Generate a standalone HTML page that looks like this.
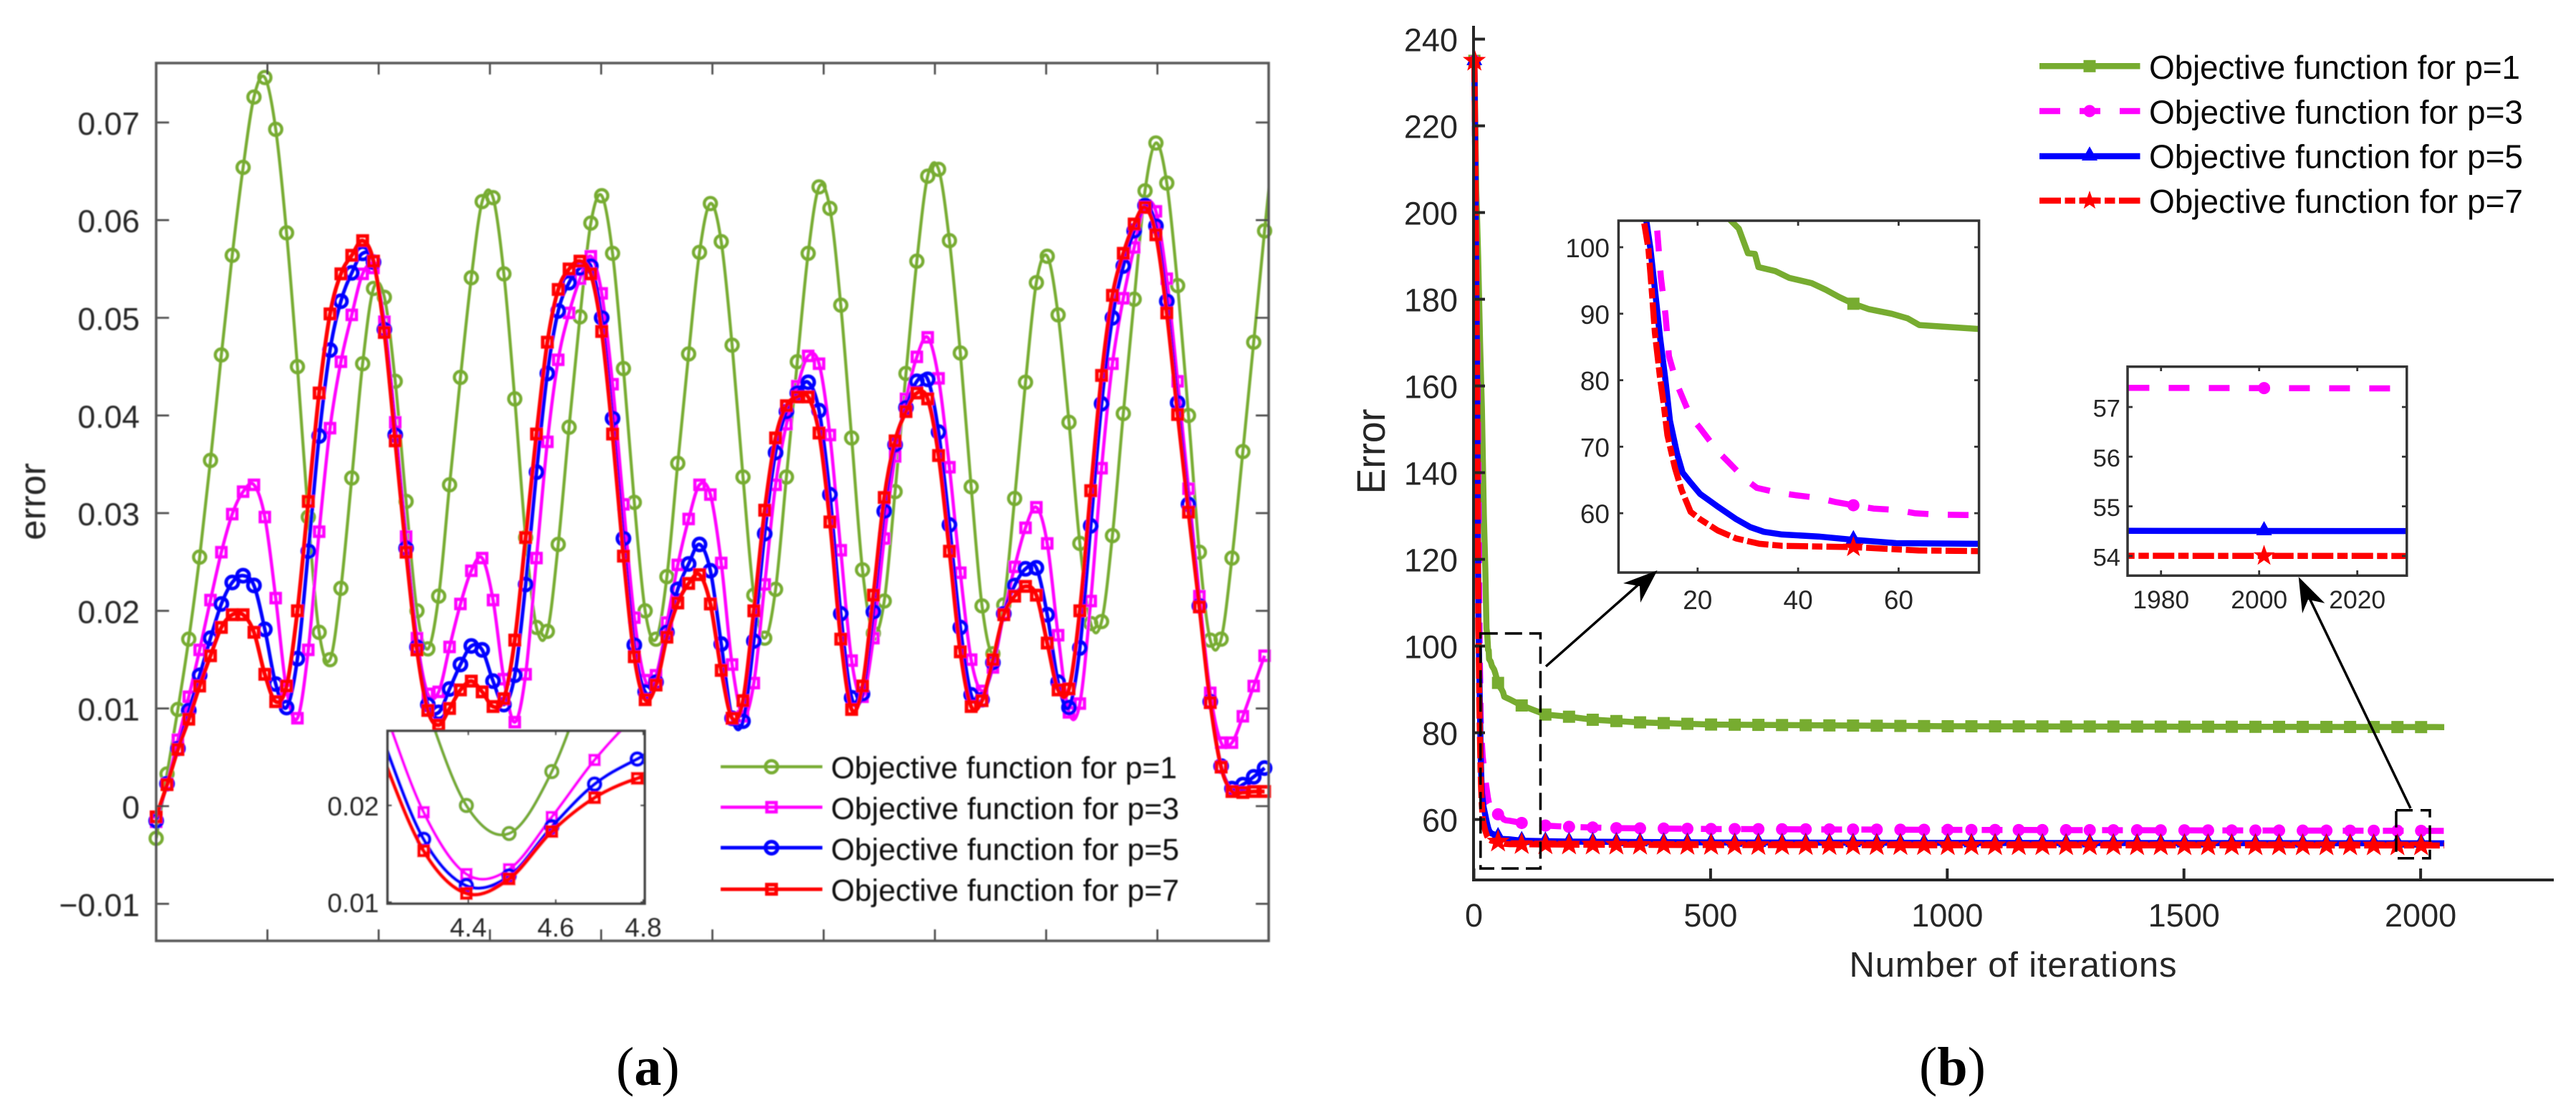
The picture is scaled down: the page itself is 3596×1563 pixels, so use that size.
<!DOCTYPE html>
<html lang="en">
<head>
<meta charset="utf-8">
<title>Objective function error charts</title>
<style>
html,body{margin:0;padding:0;background:#fff;}
svg{display:block;font-family:"Liberation Sans",Arial,sans-serif;}
.lab{fill:#262626;}
.leg{fill:#0a0a0a;}
.cap{font-family:"Liberation Serif",serif;font-size:76px;fill:#000;}
</style>
</head>
<body>
<svg id="chart" xmlns="http://www.w3.org/2000/svg" width="3596" height="1563" viewBox="0 0 3596 1563">
<defs>
<clipPath id="clip-a-main"><rect x="218" y="88" width="1553" height="1225"/></clipPath>
<clipPath id="clip-a-inset"><rect x="541" y="1020" width="359" height="241"/></clipPath>
<clipPath id="clip-b-inset1"><rect x="2259.4" y="308" width="503.2" height="491"/></clipPath>
<clipPath id="clip-b-inset2"><rect x="2970" y="511.7" width="389.8" height="291.6"/></clipPath>
<filter id="soft" x="0" y="0" width="3596" height="1563" filterUnits="userSpaceOnUse"><feGaussianBlur stdDeviation="0.9"/></filter>
</defs>
<rect x="0" y="0" width="3596" height="1563" fill="#fff"/>

<g id="panel-a">
 <g filter="url(#soft)">
  <g id="a-series"></g>
  <g id="a-axes"></g>
  <rect x="218" y="88" width="1553" height="1225" fill="none" stroke="#555" stroke-width="3.5"/>
  <text class="lab" transform="translate(63,700) rotate(-90)" text-anchor="middle" font-size="51">error</text>
  <rect x="541" y="1020" width="359" height="241" fill="#fff"/>
  <g id="a-inset"></g>
  <g id="a-inset-axes"></g>
  <rect x="541" y="1020" width="359" height="241" fill="none" stroke="#404040" stroke-width="3.5"/>
  <g id="a-legend">
    <line x1="1006" x2="1148" y1="1070" y2="1070" stroke="#77AC30" stroke-width="4.2"/>
    <line x1="1006" x2="1148" y1="1126.5" y2="1126.5" stroke="#FF00FF" stroke-width="4.5"/>
    <line x1="1006" x2="1148" y1="1183" y2="1183" stroke="#0000FF" stroke-width="5"/>
    <line x1="1006" x2="1148" y1="1241" y2="1241" stroke="#FF0000" stroke-width="5"/>
    <text class="leg" x="1160" y="1086" font-size="42.5" textLength="483">Objective function for p=1</text>
    <text class="leg" x="1160" y="1143" font-size="42.5" textLength="486">Objective function for p=3</text>
    <text class="leg" x="1160" y="1200" font-size="42.5" textLength="486">Objective function for p=5</text>
    <text class="leg" x="1160" y="1257" font-size="42.5" textLength="486">Objective function for p=7</text>
  </g>
 </g>
 <text class="cap" x="860" y="1514">(<tspan font-weight="bold">a</tspan>)</text>
</g>

<g id="panel-b">
  <g id="b-series"></g>
  <g id="b-axes"></g>
  <line x1="2057" x2="2057" y1="36" y2="1228" stroke="#262626" stroke-width="4"/>
  <line x1="2055" x2="3565" y1="1228" y2="1228" stroke="#262626" stroke-width="4"/>
  <text class="lab" transform="translate(1933,630) rotate(-90)" text-anchor="middle" font-size="56" textLength="119" lengthAdjust="spacingAndGlyphs">Error</text>
  <text class="lab" x="2581.5" y="1363" font-size="49" textLength="457">Number of iterations</text>

  <rect x="2066.8" y="884" width="83.6" height="328" fill="none" stroke="#000" stroke-width="3.5" stroke-dasharray="24 10"/>
  <rect x="3345" y="1130.7" width="47" height="67" fill="none" stroke="#000" stroke-width="3.5" stroke-dasharray="23 11"/>

  <rect x="2259.4" y="308" width="503.2" height="491" fill="#fff"/>
  <g id="b-inset1"></g>
  <g id="b-inset1-axes"></g>
  <rect x="2259.4" y="308" width="503.2" height="491" fill="none" stroke="#333" stroke-width="3.5"/>

  <rect x="2970" y="511.7" width="389.8" height="291.6" fill="#fff"/>
  <g id="b-inset2"></g>
  <g id="b-inset2-axes"></g>
  <rect x="2970" y="511.7" width="389.8" height="291.6" fill="none" stroke="#333" stroke-width="3.5"/>

  <g>
    <line x1="2158" y1="930" x2="2296" y2="808" stroke="#000" stroke-width="3.5"/>
    <polygon points="2313.6,796 2266,814 2289,818 2290,841" fill="#000"/>
  </g>
  <g>
    <line x1="3365" y1="1128" x2="3224" y2="835" stroke="#000" stroke-width="3.5"/>
    <polygon points="3208.7,805 3245.4,841.7 3222,836.7 3214,856" fill="#000"/>
  </g>

  <g id="b-legend">
    <line x1="2847" x2="2987.5" y1="92.3" y2="92.3" stroke="#77AC30" stroke-width="8.5"/>
    <line x1="2847" x2="2987.5" y1="155" y2="155" stroke="#FF00FF" stroke-width="8.5" stroke-dasharray="29 27"/>
    <line x1="2847" x2="2987.5" y1="218" y2="218" stroke="#0000FF" stroke-width="8.5"/>
    <line x1="2847" x2="2987.5" y1="280" y2="280" stroke="#FF0000" stroke-width="8.5" stroke-dasharray="30 5.5 14.5 5.5"/>
    <text class="leg" x="3000" y="110" font-size="46" textLength="518">Objective function for p=1</text>
    <text class="leg" x="3000" y="172.5" font-size="46" textLength="522">Objective function for p=3</text>
    <text class="leg" x="3000" y="234.7" font-size="46" textLength="522">Objective function for p=5</text>
    <text class="leg" x="3000" y="297" font-size="46" textLength="522">Objective function for p=7</text>
  </g>
  <text class="cap" x="2679" y="1514">(<tspan font-weight="bold">b</tspan>)</text>
</g>
</svg>

<script>
// ---------- Panel (a) data ----------
const sampleStep = 0.09768;
const errorP1 = [-.0033,.0033,.0099,.0171,.0255,.0354,.0462,.0564,.0654,.0726,.0746,.0693,.0587,.0450,.0296,.0178,.0150,.0223,.0336,.0453,.0530,.0521,.0435,.0312,.0200,.0161,.0215,.0329,.0439,.0541,.0619,.0623,.0545,.0417,.0275,.0183,.0179,.0268,.0388,.0501,.0597,.0625,.0566,.0448,.0311,.0200,.0171,.0235,.0351,.0463,.0567,.0617,.0578,.0472,.0337,.0216,.0172,.0222,.0337,.0455,.0566,.0634,.0612,.0513,.0377,.0242,.0177,.0210,.0322,.0443,.0558,.0645,.0652,.0579,.0464,.0327,.0205,.0156,.0206,.0315,.0434,.0536,.0563,.0503,.0393,.0269,.0187,.0189,.0277,.0402,.0519,.0630,.0679,.0638,.0533,.0400,.0260,.0170,.0171,.0254,.0363,.0475,.0589,.0697];
const errorP3 = [-.0016,.0023,.0068,.0112,.0160,.0211,.0260,.0299,.0322,.0329,.0296,.0213,.0119,.0090,.0160,.0281,.0387,.0455,.0503,.0545,.0551,.0496,.0393,.0276,.0172,.0115,.0117,.0163,.0207,.0241,.0254,.0211,.0130,.0086,.0135,.0254,.0373,.0457,.0505,.0540,.0563,.0525,.0432,.0309,.0193,.0129,.0134,.0188,.0247,.0294,.0329,.0319,.0249,.0145,.0092,.0126,.0227,.0329,.0391,.0430,.0461,.0453,.0380,.0262,.0149,.0112,.0172,.0274,.0358,.0417,.0460,.0480,.0438,.0347,.0239,.0150,.0118,.0142,.0197,.0245,.0285,.0306,.0269,.0175,.0096,.0105,.0210,.0346,.0453,.0520,.0572,.0615,.0609,.0540,.0435,.0325,.0215,.0116,.0065,.0065,.0092,.0123,.0154];
const errorP5 = [-.0015,.0023,.0059,.0098,.0134,.0172,.0207,.0229,.0236,.0226,.0181,.0125,.0101,.0151,.0261,.0379,.0467,.0517,.0546,.0566,.0557,.0488,.0380,.0264,.0163,.0104,.0096,.0120,.0145,.0164,.0160,.0128,.0104,.0134,.0227,.0342,.0443,.0507,.0536,.0551,.0553,.0500,.0397,.0274,.0165,.0117,.0127,.0178,.0222,.0248,.0268,.0241,.0166,.0090,.0087,.0169,.0279,.0362,.0404,.0423,.0434,.0405,.0319,.0197,.0111,.0115,.0199,.0302,.0370,.0408,.0435,.0437,.0383,.0288,.0183,.0114,.0109,.0147,.0197,.0226,.0243,.0244,.0196,.0127,.0101,.0162,.0287,.0412,.0500,.0553,.0589,.0615,.0594,.0517,.0413,.0309,.0205,.0107,.0041,.0018,.0022,.0030,.0039];
const errorP7 = [-.0011,.0022,.0058,.0089,.0123,.0154,.0183,.0196,.0196,.0178,.0135,.0107,.0123,.0200,.0312,.0423,.0504,.0545,.0564,.0579,.0558,.0485,.0374,.0260,.0160,.0098,.0083,.0100,.0119,.0128,.0117,.0102,.0110,.0170,.0275,.0381,.0475,.0529,.0550,.0558,.0545,.0486,.0381,.0256,.0153,.0109,.0124,.0173,.0208,.0228,.0237,.0207,.0139,.0090,.0108,.0200,.0303,.0377,.0410,.0419,.0419,.0382,.0291,.0171,.0099,.0123,.0216,.0316,.0374,.0404,.0423,.0417,.0359,.0261,.0158,.0102,.0108,.0150,.0196,.0215,.0225,.0216,.0167,.0119,.0120,.0200,.0323,.0441,.0523,.0566,.0596,.0613,.0585,.0505,.0401,.0301,.0204,.0106,.0040,.0015,.0014,.0015,.0015];
const aYTicks = [-0.01,0,0.01,0.02,0.03,0.04,0.05,0.06,0.07];
const aYLabels = ['\u22120.01','0','0.01','0.02','0.03','0.04','0.05','0.06','0.07'];
const aXTicks = [1,2,3,4,5,6,7,8,9];
const insetAXTicks = [4.4,4.6,4.8];
const insetAXLabels = ['4.4','4.6','4.8'];
const insetAYTicks = [0.01,0.02];
const insetAYLabels = ['0.01','0.02'];

// ---------- Panel (b) data ----------
const itersP1 = [1,5,9,13,17,21,24,26.6,28.2,30,31.4,32.1,35.5,38.2,42.7,45.5,48.2,51,54,58.6,61.8,64.1,76,101,151,201,251,301,351,500,1000,1500,2050];
const lossP1 = [235,205,190,170,154.6,130,118,104,102.8,99.1,99,97,96.4,95.4,94.6,93.6,92.5,91.5,90.7,90,89.3,88.3,87.7,86.3,84.2,83.7,83,82.7,82.4,81.9,81.5,81.4,81.3];
const itersP3 = [1,3,5,7,9,10.5,11.8,12.7,13.6,14.3,15.9,18.6,20.5,24,26,29.5,31.8,35.9,39.5,44,47.3,51,55,59.5,63.2,67.7,76,101,151,201,301,500,1000,2050];
const lossP3 = [235,212,190,170,145,125,104,95.4,89.9,83.6,79.4,74.5,72.8,69.3,67.8,65.1,63.8,63.1,62.7,62.3,61.7,61.2,60.7,60.5,60,59.8,59.7,59.2,58.6,58.3,58,57.8,57.6,57.37];
const itersP5 = [1,3,5,7,8,9,9.8,10.6,11.5,12.5,13.6,14.5,15.9,17,18.6,20.5,24,27.7,30.5,33.2,36.8,44,51,59.5,76,101,201,500,1000,2050];
const lossP5 = [235,210,185,160,137,118,104,99.8,93.7,86.6,80,73.9,69,66.1,64.6,62.9,61,59.1,57.9,57.2,56.8,56.5,56,55.5,55.4,55.1,54.9,54.7,54.6,54.5];
const itersP7 = [1,3,5,7,8,9,9.3,10.2,10.9,11.5,12.5,13.2,14,15.5,16.8,18.6,20.5,24,27.7,32.3,36.8,51,64,76,101,201,500,1000,2050];
const lossP7 = [235,210,185,155,132,112,104,99.8,93.2,87.1,80.5,76.7,71.7,66.8,63.5,60.2,59.1,57.4,56.2,55.4,55.1,54.9,54.4,54.3,54.3,54.2,54.1,54.05,54];
const bYTicks = [60,80,100,120,140,160,180,200,220,240];
const bYLabels = ['60','80','100','120','140','160','180','200','220','240'];
const bXTicks = [0,500,1000,1500,2000];
const bXLabels = ['0','500','1000','1500','2000'];
const inset1XTicks = [20,40,60];
const inset1XLabels = ['20','40','60'];
const inset1YTicks = [60,70,80,90,100];
const inset1YLabels = ['60','70','80','90','100'];
const inset2XTicks = [1980,2000,2020];
const inset2XLabels = ['1980','2000','2020'];
const inset2YTicks = [54,55,56,57];
const inset2YLabels = ['54','55','56','57'];

// ---------- Helpers ----------
const NS = 'http://www.w3.org/2000/svg';
function mk(tag, attrs, parent) {
  const e = document.createElementNS(NS, tag);
  for (const k in attrs) e.setAttribute(k, attrs[k]);
  parent.appendChild(e);
  return e;
}
function $(id) { return document.getElementById(id); }

// Axis functions
const ax = t => 218 + 155.3 * t;
const ay = v => 1125 - 13630 * v;
const iax = t => 653.7 + (t - 4.4) * 610.7;
const iay = v => 1124 + (0.02 - v) * 13500;
const bx = i => 2057.5 + 0.6608 * i;
const by = v => 1143.6 + (60 - v) * 6.05;
const i1x = i => 2369.8 + (i - 20) * 7.015;
const i1y = v => 345 + (100 - v) * 9.28;
const i2x = i => 3153.7 + (i - 2000) * 6.85;
const i2y = v => 568 + (57 - v) * 69.3;

function smoothPath(pts) {
  let d = 'M' + pts[0][0].toFixed(1) + ' ' + pts[0][1].toFixed(1);
  for (let i = 0; i < pts.length - 1; i++) {
    const p0 = pts[Math.max(0, i - 1)], p1 = pts[i], p2 = pts[i + 1], p3 = pts[Math.min(pts.length - 1, i + 2)];
    const c1x = p1[0] + (p2[0] - p0[0]) / 6, c1y = p1[1] + (p2[1] - p0[1]) / 6;
    const c2x = p2[0] - (p3[0] - p1[0]) / 6, c2y = p2[1] - (p3[1] - p1[1]) / 6;
    d += 'C' + c1x.toFixed(1) + ' ' + c1y.toFixed(1) + ' ' + c2x.toFixed(1) + ' ' + c2y.toFixed(1) + ' ' + p2[0].toFixed(1) + ' ' + p2[1].toFixed(1);
  }
  return d;
}
function linePath(pts) {
  return 'M' + pts.map(p => p[0].toFixed(1) + ' ' + p[1].toFixed(1)).join('L');
}
function starPoints(x, y, R) {
  const r = R * 0.4, out = [];
  for (let k = 0; k < 10; k++) {
    const a = -Math.PI / 2 + k * Math.PI / 5, q = k % 2 ? r : R;
    out.push((x + q * Math.cos(a)).toFixed(1) + ',' + (y + q * Math.sin(a)).toFixed(1));
  }
  return out.join(' ');
}
function marker(kind, x, y, color, size, sw, parent, name) {
  let e;
  if (kind === 'openCircle') e = mk('circle', {cx: x, cy: y, r: size, fill: 'none', stroke: color, 'stroke-width': sw}, parent);
  else if (kind === 'openSquare') e = mk('rect', {x: x - size, y: y - size, width: 2 * size, height: 2 * size, fill: 'none', stroke: color, 'stroke-width': sw}, parent);
  else if (kind === 'square') e = mk('rect', {x: x - size, y: y - size, width: 2 * size, height: 2 * size, fill: color}, parent);
  else if (kind === 'circle') e = mk('circle', {cx: x, cy: y, r: size, fill: color}, parent);
  else if (kind === 'triangle') e = mk('polygon', {points: x + ',' + (y - size * 1.25) + ' ' + (x - size) + ',' + (y + size * 0.55) + ' ' + (x + size) + ',' + (y + size * 0.55), fill: color}, parent);
  else e = mk('polygon', {points: starPoints(x, y, size), fill: color}, parent);
  
  
  return e;
}
function tick(parent, x1, y1, x2, y2, color, w, name) {
  const t = mk('line', {x1: x1, y1: y1, x2: x2, y2: y2, stroke: color, 'stroke-width': w}, parent);
  
  
  return t;
}
function label(parent, x, y, str, size, anchor, name) {
  const t = mk('text', {x: x, y: y, 'font-size': size, 'text-anchor': anchor, class: 'lab'}, parent);
  t.textContent = str;
  
  
  return t;
}
function lerpAt(xs, ys, x) {
  for (let i = 0; i < xs.length - 1; i++) {
    if (x <= xs[i + 1]) return ys[i] + (ys[i + 1] - ys[i]) * (x - xs[i]) / (xs[i + 1] - xs[i]);
  }
  return ys[ys.length - 1];
}

// ---------- Panel (a) series ----------
const aSeries = [
  {id: 'p1', vals: errorP1, color: '#77AC30', kind: 'openCircle', size: 8.5, sw: 4.4, lw: 4.2},
  {id: 'p3', vals: errorP3, color: '#FF00FF', kind: 'openSquare', size: 6.5, sw: 4.5, lw: 4.5},
  {id: 'p5', vals: errorP5, color: '#0000FF', kind: 'openCircle', size: 8.5, sw: 5, lw: 5},
  {id: 'p7', vals: errorP7, color: '#FF0000', kind: 'openSquare', size: 6.5, sw: 5, lw: 5.5}
];
aSeries.forEach(s => {
  const g = mk('g', {}, $('a-series'));
  
  
  const pts = s.vals.map((v, i) => [ax(i * sampleStep), ay(v)]);
  const p = mk('path', {d: smoothPath(pts), fill: 'none', stroke: s.color, 'stroke-width': s.lw, 'clip-path': 'url(#clip-a-main)', 'stroke-linejoin': 'round'}, g);
  
  
  pts.forEach((q, i) => {
    if (q[0] <= 1771) marker(s.kind, q[0], q[1], s.color, s.size, s.sw, g, 'point-a-' + s.id);
  });

  const ig = mk('g', {'clip-path': 'url(#clip-a-inset)'}, $('a-inset'));
  
  
  const ipts = s.vals.map((v, i) => [iax(i * sampleStep), iay(v)]);
  const ip = mk('path', {d: smoothPath(ipts), fill: 'none', stroke: s.color, 'stroke-width': s.lw}, ig);
  
  
  ipts.forEach(q => {
    if (q[0] > 530 && q[0] < 910 && q[1] > 1000 && q[1] < 1280) marker(s.kind, q[0], q[1], s.color, s.size, s.sw, ig, 'inset-point-a-' + s.id);
  });
});
marker('openCircle', 1077, 1070, '#77AC30', 8.5, 4.4, $('a-legend'), 'legend-a-marker-p1');
marker('openSquare', 1077, 1126.5, '#FF00FF', 6.5, 4.5, $('a-legend'), 'legend-a-marker-p3');
marker('openCircle', 1077, 1183, '#0000FF', 8.5, 5, $('a-legend'), 'legend-a-marker-p5');
marker('openSquare', 1077, 1241, '#FF0000', 6.5, 5, $('a-legend'), 'legend-a-marker-p7');

// Panel (a) axes
aXTicks.forEach(t => {
  tick($('a-axes'), ax(t), 1313, ax(t), 1297, '#444', 2.6, 'x-tick-a');
  tick($('a-axes'), ax(t), 88, ax(t), 104, '#444', 2.6, 'x-tick-a-top');
});
aYTicks.forEach((v, i) => {
  tick($('a-axes'), 218, ay(v), 236, ay(v), '#444', 2.6, 'y-tick-a');
  tick($('a-axes'), 1771, ay(v), 1753, ay(v), '#444', 2.6, 'y-tick-a-right');
  label($('a-axes'), 195, ay(v) + 17, aYLabels[i], 44.5, 'end', 'y-tick-label-a');
});
insetAXTicks.forEach((t, i) => {
  tick($('a-inset-axes'), iax(t), 1261, iax(t), 1255, '#404040', 2.4, 'inset-a-x-tick');
  tick($('a-inset-axes'), iax(t), 1020, iax(t), 1026, '#404040', 2.4, 'inset-a-x-tick-top');
  label($('a-inset-axes'), iax(t), 1307, insetAXLabels[i], 37, 'middle', 'inset-a-x-label');
});
insetAYTicks.forEach((v, i) => {
  tick($('a-inset-axes'), 541, iay(v), 547, iay(v), '#404040', 2.4, 'inset-a-y-tick');
  tick($('a-inset-axes'), 900, iay(v), 894, iay(v), '#404040', 2.4, 'inset-a-y-tick-right');
  label($('a-inset-axes'), 529, iay(v) + 14, insetAYLabels[i], 37, 'end', 'inset-a-y-label');
});

// ---------- Panel (b) series ----------
const bSeries = [
  {id: 'p1', iters: itersP1, vals: lossP1, color: '#77AC30', kind: 'square', size: 8.5, dash: ''},
  {id: 'p3', iters: itersP3, vals: lossP3, color: '#FF00FF', kind: 'circle', size: 8.5, dash: '29 27'},
  {id: 'p5', iters: itersP5, vals: lossP5, color: '#0000FF', kind: 'triangle', size: 11, dash: ''},
  {id: 'p7', iters: itersP7, vals: lossP7, color: '#FF0000', kind: 'star', size: 17, dash: '30 5.5 14.5 5.5'}
];
const markerEvery = 50;
const legendY = {p1: 92.3, p3: 155, p5: 218, p7: 280};
function drawB(s, root, fx, fy, from, to, clip, prefix, starSize) {
  const g = mk('g', clip ? {'clip-path': clip} : {}, root);
  
  
  const pts = s.iters.map((it, i) => [fx(it), fy(s.vals[i])]);
  const p = mk('path', {d: linePath(pts), fill: 'none', stroke: s.color, 'stroke-width': 8.5, 'stroke-dasharray': s.dash || 'none', 'stroke-linejoin': 'round'}, g);
  
  
  for (let it = 1; it <= 2050; it += markerEvery) {
    if (it >= from && it <= to) {
      marker(s.kind, fx(it), fy(lerpAt(s.iters, s.vals, it)), s.color, s.kind === 'star' ? starSize : s.size, 0, g, prefix + '-marker-' + s.id);
    }
  }
}
bSeries.forEach(s => {
  drawB(s, $('b-series'), bx, by, 0, 2050, null, 'main-b', 17);
  drawB(s, $('b-inset1'), i1x, i1y, 4, 76, 'url(#clip-b-inset1)', 'inset1-b', 15.5);
  drawB(s, $('b-inset2'), i2x, i2y, 1973, 2030, 'url(#clip-b-inset2)', 'inset2-b', 15.5);
  marker(s.kind, 2917, legendY[s.id], s.color, s.kind === 'star' ? 14 : s.size, 0, $('b-legend'), 'legend-b-marker-' + s.id);
});

// Panel (b) axes
bXTicks.forEach((t, i) => {
  tick($('b-axes'), bx(t), 1228, bx(t), 1212, '#262626', 4, 'x-tick-b');
  label($('b-axes'), bx(t), 1293, bXLabels[i], 45, 'middle', 'x-tick-label-b');
});
bYTicks.forEach((v, i) => {
  tick($('b-axes'), 2057, by(v), 2073, by(v), '#262626', 4, 'y-tick-b');
  label($('b-axes'), 2035, by(v) + 17, bYLabels[i], 45, 'end', 'y-tick-label-b');
});
inset1XTicks.forEach((t, i) => {
  tick($('b-inset1-axes'), i1x(t), 799, i1x(t), 792, '#333', 2.8, 'inset1-x-tick');
  tick($('b-inset1-axes'), i1x(t), 308, i1x(t), 315, '#333', 2.8, 'inset1-x-tick-top');
  label($('b-inset1-axes'), i1x(t), 850, inset1XLabels[i], 37, 'middle', 'inset1-x-label');
});
inset1YTicks.forEach((v, i) => {
  tick($('b-inset1-axes'), 2259.4, i1y(v), 2266, i1y(v), '#333', 2.8, 'inset1-y-tick');
  tick($('b-inset1-axes'), 2762.6, i1y(v), 2756, i1y(v), '#333', 2.8, 'inset1-y-tick-right');
  label($('b-inset1-axes'), 2247, i1y(v) + 14, inset1YLabels[i], 37, 'end', 'inset1-y-label');
});
inset2XTicks.forEach((t, i) => {
  tick($('b-inset2-axes'), i2x(t), 803.3, i2x(t), 796, '#333', 2.8, 'inset2-x-tick');
  tick($('b-inset2-axes'), i2x(t), 511.7, i2x(t), 518, '#333', 2.8, 'inset2-x-tick-top');
  label($('b-inset2-axes'), i2x(t), 849, inset2XLabels[i], 35.5, 'middle', 'inset2-x-label');
});
inset2YTicks.forEach((v, i) => {
  tick($('b-inset2-axes'), 2970, i2y(v), 2977, i2y(v), '#333', 2.8, 'inset2-y-tick');
  tick($('b-inset2-axes'), 3359.8, i2y(v), 3353, i2y(v), '#333', 2.8, 'inset2-y-tick-right');
  label($('b-inset2-axes'), 2960, i2y(v) + 13.5, inset2YLabels[i], 34.5, 'end', 'inset2-y-label');
});
</script>
</body>
</html>
